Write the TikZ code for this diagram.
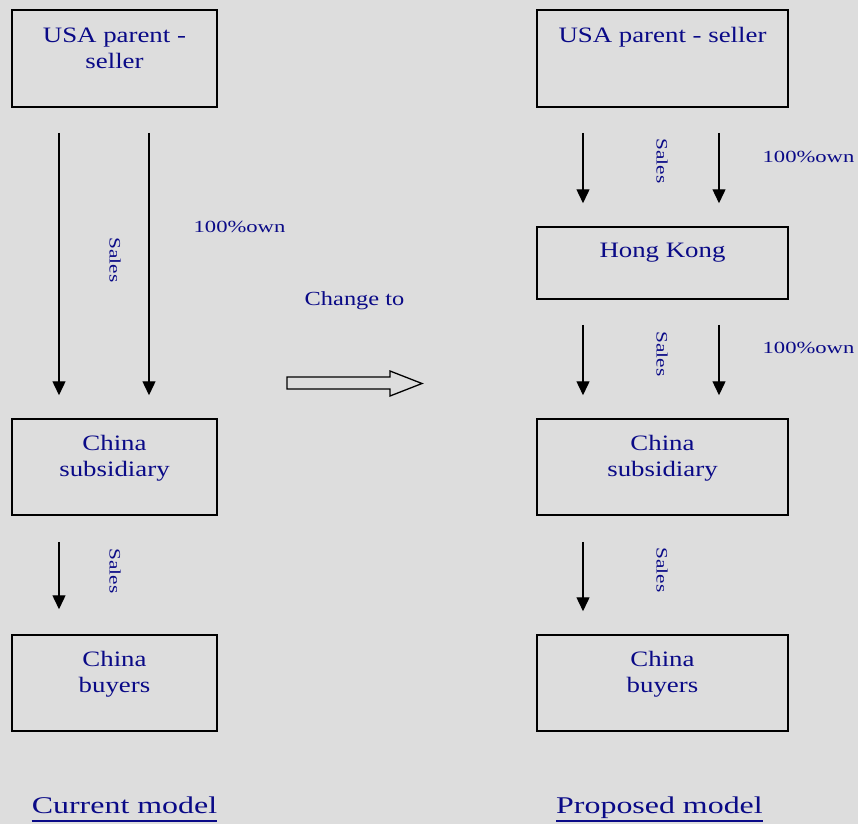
\documentclass[tikz,border=0pt]{standalone}
\usepackage{fontspec}
\setmainfont{Liberation Serif}[FakeStretch=1.22]
\newfontfamily\widef{Liberation Serif}[FakeStretch=1.33]
\usetikzlibrary{arrows.meta,calc}
\definecolor{bg}{RGB}{221,221,221}
\definecolor{ink}{RGB}{10,10,135}
\tikzset{
  box/.style={draw=black, line width=1.5pt, rectangle, inner sep=0pt, fill=none},
  boxtext/.style={text=ink, align=center, inner sep=0pt, anchor=north,
    font={\fontsize{22}{26}\selectfont}},
  flow/.style={draw=black, line width=1.4pt, -{Triangle[length=14pt,width=13pt]}},
  saleslbl/.style={text=ink, inner sep=0pt, rotate=-90, font={\widef\fontsize{16}{18}\selectfont}},
  ownlbl/.style={text=ink, inner sep=0pt, font={\widef\fontsize{17}{20}\selectfont}},
  modellbl/.style={text=ink, inner sep=0pt, anchor=base, font={\widef\fontsize{24}{28}\selectfont}},
}
\begin{document}
\begin{tikzpicture}[x=1pt,y=-1pt]
\fill[bg] (0,0) rectangle (858,824);
\useasboundingbox (0,0) rectangle (858,824);

% ---- left column (current model)
\node[box, minimum width=205, minimum height=97] (lu) at (114.5,58.5) {};
\node[boxtext] (lut) at ([yshift=-18pt]lu.north) {USA parent -\\seller};
\node[box, minimum width=205, minimum height=96] (ls) at (114.5,467) {};
\node[boxtext] (lst) at ([yshift=-17pt]ls.north) {China\\subsidiary};
\node[box, minimum width=205, minimum height=96] (lb) at (114.5,683) {};
\node[boxtext] (lbt) at ([yshift=-17pt]lb.north) {China\\buyers};

\draw[flow, shorten <=25pt, shorten >=23pt] ([xshift=-55.5pt]lu.south) -- ([xshift=-55.5pt]ls.north)
  node[midway, xshift=56pt, yshift=3pt, saleslbl] (ls1) {Sales};
\draw[flow, shorten <=25pt, shorten >=23pt] ([xshift=34.5pt]lu.south) -- ([xshift=34.5pt]ls.north);
\node[ownlbl] (lo1) at (239.5,227) {100\%own};

\draw[flow, shorten <=26pt, shorten >=25pt] ([xshift=-55.5pt]ls.south) -- ([xshift=-55.5pt]lb.north)
  node[midway, xshift=56pt, yshift=4pt, saleslbl] (ls2) {Sales};

% ---- middle
\node[text=ink, inner sep=0pt, font={\fontsize{20}{24}\selectfont}] (chg) at (354.5,301) {Change to};
\draw[black, line width=1.3pt, line join=miter] (287,377) -- (390,377) -- (390,371) -- (422,383.5)
  -- (390,396) -- (390,389) -- (287,389) -- cycle;

% ---- right column (proposed model)
\node[box, minimum width=251, minimum height=97] (ru) at (662.5,58.5) {};
\node[boxtext] (rut) at ([yshift=-18pt]ru.north) {USA parent - seller};
\node[box, minimum width=251, minimum height=72] (rh) at (662.5,263) {};
\node[boxtext] (rht) at ([yshift=-17pt]rh.north) {Hong Kong};
\node[box, minimum width=251, minimum height=96] (rs) at (662.5,467) {};
\node[boxtext] (rst) at ([yshift=-17pt]rs.north) {China\\subsidiary};
\node[box, minimum width=251, minimum height=96] (rb) at (662.5,683) {};
\node[boxtext] (rbt) at ([yshift=-17pt]rb.north) {China\\buyers};

\draw[flow, shorten <=25pt, shorten >=23pt] ([xshift=-79.5pt]ru.south) -- ([xshift=-79.5pt]rh.north)
  node[midway, xshift=79pt, yshift=6pt, saleslbl] (rs1) {Sales};
\draw[flow, shorten <=25pt, shorten >=23pt] ([xshift=56.5pt]ru.south) -- ([xshift=56.5pt]rh.north);
\node[ownlbl] (ro1) at (808.5,157) {100\%own};

\draw[flow, shorten <=25pt, shorten >=23pt] ([xshift=-79.5pt]rh.south) -- ([xshift=-79.5pt]rs.north)
  node[midway, xshift=79pt, yshift=5pt, saleslbl] (rs2) {Sales};
\draw[flow, shorten <=25pt, shorten >=23pt] ([xshift=56.5pt]rh.south) -- ([xshift=56.5pt]rs.north);
\node[ownlbl] (ro2) at (808.5,348) {100\%own};

\draw[flow, shorten <=26pt, shorten >=23pt] ([xshift=-79.5pt]rs.south) -- ([xshift=-79.5pt]rb.north)
  node[midway, xshift=79pt, yshift=5pt, saleslbl] (rs3) {Sales};

% ---- bottom captions
\node[modellbl] (cm) at (124.5,813) {Current model};
\draw[ink, line width=1.5pt] ([yshift=-8pt]cm.base west) -- ([yshift=-8pt]cm.base east);
\node[modellbl] (pm) at (659.5,813) {Proposed model};
\draw[ink, line width=1.5pt] ([yshift=-8pt]pm.base west) -- ([yshift=-8pt]pm.base east);
\end{tikzpicture}
\end{document}
